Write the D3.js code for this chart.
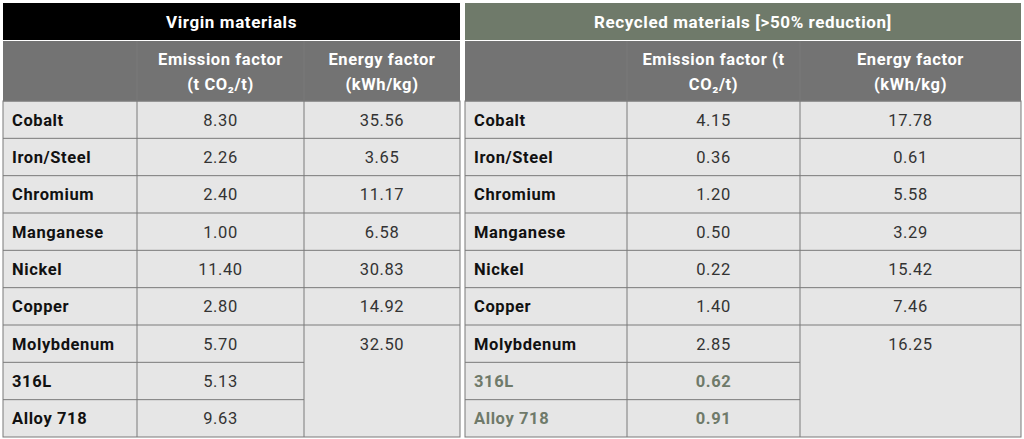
<!DOCTYPE html><html><head><meta charset="utf-8"><script src="https://cdn.jsdelivr.net/npm/d3@7"></script>
<style>body{margin:0;background:#fff}svg{display:block}text{letter-spacing:0.6px}</style></head><body><svg id="c" width="1024" height="439"></svg>
<script>
const materials=["Cobalt","Iron/Steel","Chromium","Manganese","Nickel","Copper","Molybdenum","316L","Alloy 718"];
const virginEmission=["8.30","2.26","2.40","1.00","11.40","2.80","5.70","5.13","9.63"];
const virginEnergy=["35.56","3.65","11.17","6.58","30.83","14.92","32.50",null,null];
const recycledEmission=["4.15","0.36","1.20","0.50","0.22","1.40","2.85","0.62","0.91"];
const recycledEnergy=["17.78","0.61","5.58","3.29","15.42","7.46","16.25",null,null];
const titles=["Virgin materials","Recycled materials [>50% reduction]"];

const svg=d3.select("#c");
const F="Roboto, 'Noto Sans', sans-serif";
const y=d3.scaleBand().domain(d3.range(materials.length)).range([101,437]);
const tables=[
 {x:[3,137,304,460],title:titles[0],hc:"#000",em:virginEmission,en:virginEnergy,eh:["Emission factor","(t CO₂/t)"]},
 {x:[465,627,800,1021],title:titles[1],hc:"#6f7a6a",em:recycledEmission,en:recycledEnergy,eh:["Emission factor (t","CO₂/t)"]}
];
const border="#7a7a7a";
tables.forEach((t,ti)=>{
 const g=svg.append("g");
 const [x0,x1,x2,x3]=t.x;
 g.append("rect").attr("x",x0).attr("y",3).attr("width",x3-x0).attr("height",37).attr("fill",t.hc);
 g.append("text").attr("x",(x0+x3)/2).attr("y",28).attr("text-anchor","middle").attr("fill","#fff").attr("font-family",F).attr("font-weight","bold").attr("font-size",17).text(t.title);
 g.append("rect").attr("x",x0).attr("y",41).attr("width",x3-x0).attr("height",60).attr("fill","#737373");
 [[x1,x2,t.eh],[x2,x3,["Energy factor","(kWh/kg)"]]].forEach(([a,b,lines])=>{
   lines.forEach((l,i)=>g.append("text").attr("x",(a+b)/2).attr("y",65+i*25).attr("text-anchor","middle").attr("fill","#fff").attr("font-family",F).attr("font-weight","bold").attr("font-size",16.5).text(l));
 });
 g.append("rect").attr("x",x0).attr("y",101).attr("width",x3-x0).attr("height",336).attr("fill","#e6e6e6").attr("stroke",border);
 materials.forEach((m,i)=>{
   const yy=y(i),h=y.bandwidth(),cy=yy+h/2+6;
   const special=ti===1&&i>=7;
   const col=special?"#6f7a6a":"#111";
   g.append("line").attr("x1",x0).attr("x2",t.en[i]===null?x2:x3).attr("y1",yy).attr("y2",yy).attr("stroke",border);
   g.append("text").attr("x",x0+9).attr("y",cy).attr("fill",col).attr("font-family",F).attr("font-weight","bold").attr("font-size",16.5).text(m);
   g.append("text").attr("x",(x1+x2)/2).attr("y",cy).attr("text-anchor","middle").attr("fill",special?col:"#333").attr("font-family",F).attr("font-weight",special?"bold":"normal").attr("font-size",16.5).text(t.em[i]);
   if(t.en[i]!==null)g.append("text").attr("x",(x2+x3)/2).attr("y",cy).attr("text-anchor","middle").attr("fill","#333").attr("font-family",F).attr("font-size",16.5).text(t.en[i]);
 });
 [x1,x2].forEach(x=>g.append("line").attr("x1",x).attr("x2",x).attr("y1",41).attr("y2",437).attr("stroke",border));
});
</script></body></html>
